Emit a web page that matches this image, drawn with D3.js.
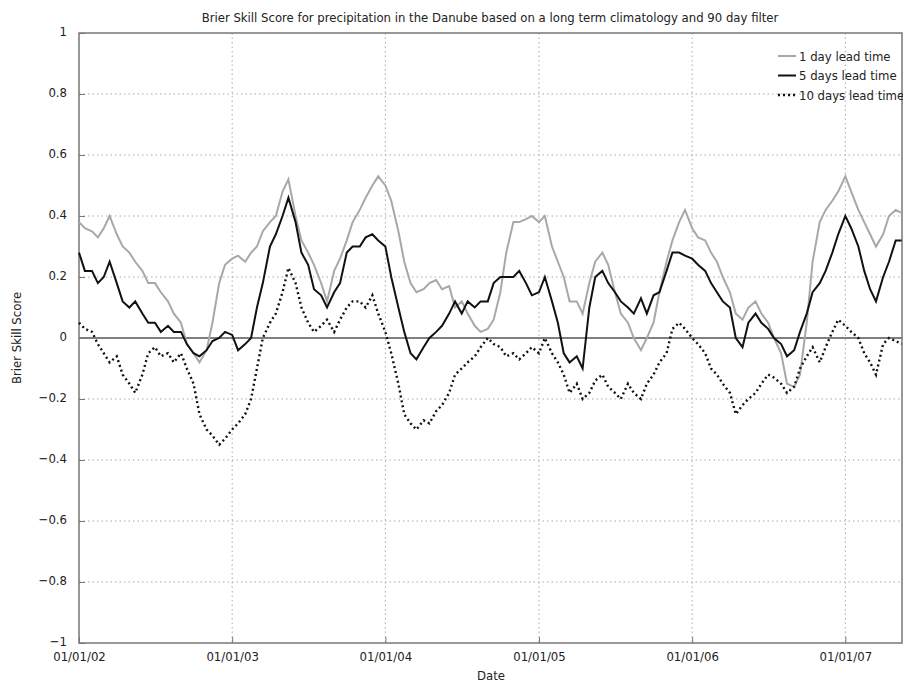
<!DOCTYPE html>
<html>
<head>
<meta charset="utf-8">
<script src="https://cdn.jsdelivr.net/npm/d3@7"></script>
<style>
body { margin: 0; background: #fff; }
text { font-family: "DejaVu Sans Condensed", "Liberation Sans Narrow", sans-serif; fill: #222; }
</style>
</head>
<body>
<svg id="chart"></svg>
<script>
// two readings per month (1st and 15th), Jan 2002 .. May 2007
var lead1 = [
  .38,.36, .35,.33, .36,.40, .34,.30, .28,.25, .22,.18, .18,.15, .12,.08, .05,-.02, -.05,-.08, -.04,.05, .18,.24,
  .26,.27, .25,.28, .30,.35, .38,.40, .48,.52, .40,.32, .28,.24, .18,.12, .22,.26, .32,.38, .42,.46, .50,.53,
  .50,.45, .35,.25, .18,.15, .16,.18, .19,.16, .17,.10, .12,.08, .04,.02, .03,.06, .15,.28, .38,.38, .39,.40,
  .38,.40, .30,.25, .20,.12, .12,.08, .18,.25, .28,.24, .15,.08, .05,.00, -.04,.00, .05,.15, .25,.32, .38,.42,
  .36,.33, .32,.28, .25,.20, .15,.08, .06,.10, .12,.08, .05,.00, -.05,-.15, -.16,-.12, .05,.25, .38,.42, .45,.48,
  .53,.48, .42,.38, .34,.30, .34,.40, .42,.41
]
var lead5 = [
  .28,.22, .22,.18, .20,.25, .18,.12, .10,.12, .08,.05, .05,.02, .04,.02, .02,-.02, -.05,-.06, -.04,-.01, .00,.02,
  .01,-.04, -.02,.00, .10,.18, .30,.34, .40,.46, .38,.28, .24,.16, .14,.10, .15,.18, .28,.30, .30,.33, .34,.32,
  .30,.20, .10,.02, -.05,-.07, -.03,.00, .02,.04, .08,.12, .08,.12, .10,.12, .12,.18, .20,.20, .20,.22, .18,.14,
  .15,.20, .12,.05, -.05,-.08, -.06,-.10, .10,.20, .22,.18, .15,.12, .10,.08, .13,.08, .14,.15, .22,.28, .28,.27,
  .26,.24, .22,.18, .15,.12, .10,.00, -.03,.05, .08,.05, .03,.00, -.02,-.06, -.04,.02, .08,.15, .18,.22, .28,.34,
  .40,.36, .30,.22, .16,.12, .20,.25, .32,.32
]
var lead10 = [
  .05,.03, .02,-.02, -.05,-.08, -.06,-.12, -.15,-.18, -.12,-.05, -.03,-.06, -.05,-.08, -.05,-.10, -.15,-.25, -.30,-.32, -.35,-.33,
  -.30,-.28, -.25,-.20, -.10,.00, .05,.08, .15,.23, .18,.10, .05,.02, .04,.06, .02,.06, .10,.12, .12,.10, .14,.08,
  .02,-.05, -.15,-.25, -.28,-.30, -.27,-.28, -.24,-.22, -.18,-.12, -.10,-.08, -.06,-.03, .00,-.02, -.03,-.06, -.05,-.07, -.05,-.03,
  -.05,.00, -.05,-.08, -.12,-.18, -.15,-.20, -.18,-.14, -.12,-.16, -.18,-.20, -.15,-.18, -.20,-.15, -.12,-.08, -.05,.03, .05,.03,
  .00,-.02, -.05,-.10, -.12,-.15, -.18,-.25, -.22,-.20, -.18,-.15, -.12,-.13, -.15,-.18, -.16,-.10, -.06,-.03, -.08,-.03, .02,.06,
  .04,.02, .00,-.05, -.08,-.12, -.02,.00, -.01,-.02
]
var seriesNames = ['1 day lead time', '5 days lead time', '10 days lead time']
var yTicks = [1, 0.8, 0.6, 0.4, 0.2, 0, -0.2, -0.4, -0.6, -0.8, -1]
var xTickYears = [2002, 2003, 2004, 2005, 2006, 2007]

var width = 903, height = 684
var margin = {left: 79, right: 1, top: 33, bottom: 41}
var fs = 13

var dates = lead1.map(function (d, i) {
  return new Date(2002, Math.floor(i / 2), i % 2 == 0 ? 1 : 15)
})

var svg = d3.select('#chart').attr('width', width).attr('height', height)

var x = d3.scaleTime()
  .domain([new Date(2002, 0, 1), new Date(2007, 4, 16)])
  .range([margin.left, width - margin.right])
var y = d3.scaleLinear()
  .domain([-1, 1])
  .range([height - margin.bottom, margin.top])

// grid
svg.append('g').selectAll('line').data(yTicks.filter(function (d) { return d != 1 && d != -1 && d != 0 }))
  .enter().append('line')
  .attr('x1', margin.left).attr('x2', width - margin.right)
  .attr('y1', function (d) { return y(d) }).attr('y2', function (d) { return y(d) })
  .attr('stroke', '#aaa').attr('stroke-dasharray', '1.5,3')
svg.append('g').selectAll('line').data(xTickYears.slice(1))
  .enter().append('line')
  .attr('x1', function (d) { return x(new Date(d, 0, 1)) }).attr('x2', function (d) { return x(new Date(d, 0, 1)) })
  .attr('y1', margin.top).attr('y2', height - margin.bottom)
  .attr('stroke', '#aaa').attr('stroke-dasharray', '1.5,3')

// zero line
svg.append('line')
  .attr('x1', margin.left).attr('x2', width - margin.right)
  .attr('y1', y(0)).attr('y2', y(0))
  .attr('stroke', '#555').attr('stroke-width', 1.5)

// frame
svg.append('rect')
  .attr('x', margin.left).attr('y', margin.top)
  .attr('width', width - margin.right - margin.left)
  .attr('height', height - margin.bottom - margin.top)
  .attr('fill', 'none').attr('stroke', '#777').attr('stroke-width', 1.5)

// axes
var yAxis = d3.axisLeft(y).tickValues(yTicks).tickSize(-6).tickPadding(12)
  .tickFormat(function (d) { return d == 0 ? '0' : d3.format('')(d) })
var gy = svg.append('g').attr('transform', 'translate(' + margin.left + ',0)').call(yAxis)
var xAxis = d3.axisBottom(x).tickValues(xTickYears.map(function (d) { return new Date(d, 0, 1) }))
  .tickSize(-6).tickPadding(9).tickFormat(d3.timeFormat('%m/%d/%y'))
var gx = svg.append('g').attr('transform', 'translate(0,' + (height - margin.bottom) + ')').call(xAxis)
;[gx, gy].forEach(function (g) {
  g.select('.domain').remove()
  g.selectAll('line').attr('stroke', '#777')
  g.selectAll('text').attr('font-size', fs).attr('fill', '#222')
    .style('font-family', '"DejaVu Sans Condensed", "Liberation Sans Narrow", sans-serif')
})
gy.selectAll('text').attr('dy', '0.2em')

// lines
var line = d3.line()
  .x(function (d, i) { return x(dates[i]) })
  .y(function (d) { return y(d) })
svg.append('path').datum(lead1).attr('d', line)
  .attr('fill', 'none').attr('stroke', '#a8a8a8').attr('stroke-width', 2)
svg.append('path').datum(lead5).attr('d', line)
  .attr('fill', 'none').attr('stroke', '#111').attr('stroke-width', 2)
svg.append('path').datum(lead10).attr('d', line)
  .attr('fill', 'none').attr('stroke', '#111').attr('stroke-width', 2.4).attr('stroke-dasharray', '2,3')

// titles
svg.append('text').attr('x', 490).attr('y', 22).attr('text-anchor', 'middle').attr('font-size', fs)
  .text('Brier Skill Score for precipitation in the Danube based on a long term climatology and 90 day filter')
svg.append('text').attr('x', 491).attr('y', 680).attr('text-anchor', 'middle').attr('font-size', fs).text('Date')
svg.append('text').attr('transform', 'translate(21,' + y(0) + ') rotate(-90)')
  .attr('text-anchor', 'middle').attr('font-size', fs).text('Brier Skill Score')

// legend
var legendStyles = [
  {stroke: '#a8a8a8', dash: null, w: 2},
  {stroke: '#111', dash: null, w: 2},
  {stroke: '#111', dash: '2,3', w: 2.4}
]
var lg = svg.append('g').selectAll('g').data(seriesNames).enter().append('g')
  .attr('transform', function (d, i) { return 'translate(778,' + (56 + i * 19.5) + ')' })
lg.append('line').attr('x1', 0).attr('x2', 18)
  .attr('stroke', function (d, i) { return legendStyles[i].stroke })
  .attr('stroke-width', function (d, i) { return legendStyles[i].w })
  .attr('stroke-dasharray', function (d, i) { return legendStyles[i].dash })
lg.append('text').attr('x', 21).attr('dy', '0.35em').attr('font-size', fs).text(function (d) { return d })
</script>
</body>
</html>
